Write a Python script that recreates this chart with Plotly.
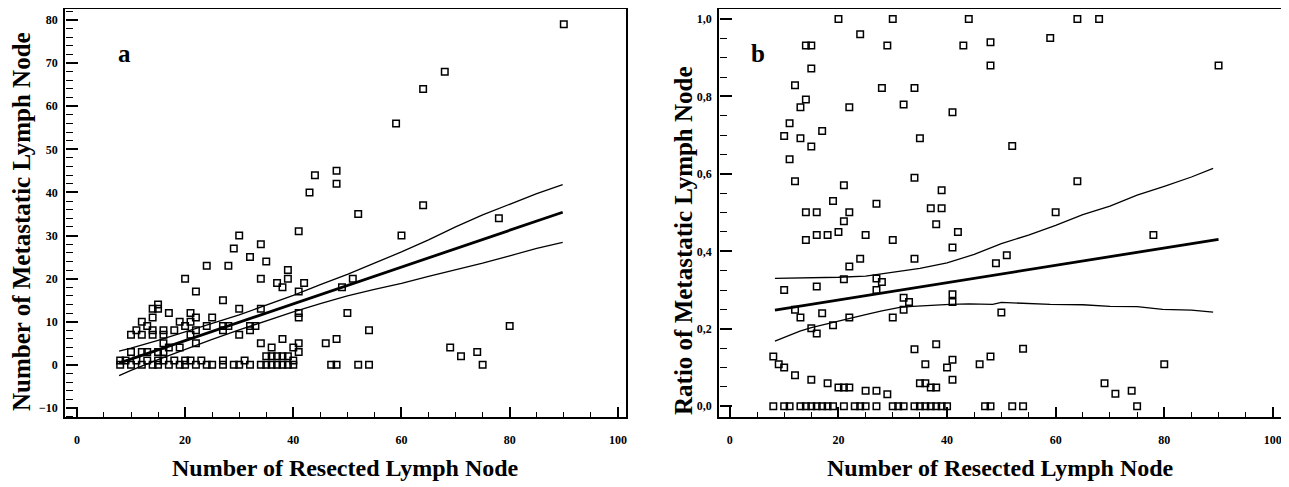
import plotly.graph_objects as go

# ---------------- data: panel a (count) ----------------
a_zero_x = [8, 10, 12, 14, 15, 17, 19, 20, 22, 24, 25, 27, 29, 30, 32, 34, 35, 36, 37, 38, 39, 40, 47, 48, 52, 54, 75]
a_one_x = [8, 9, 11, 13, 15, 16, 18, 20, 21, 23, 27, 31, 40]
a_other_x = [35, 36, 37, 38, 39, 10, 12, 13, 15, 16, 41, 71, 74, 17, 19, 36, 40, 69,
             16, 22, 34, 41, 46, 38, 48, 10, 12, 14, 16, 21, 30, 11, 14, 16, 18, 22, 27, 32, 54,
             13, 20, 24, 27, 28, 32, 33, 80, 12, 19, 21, 14, 22, 25, 41, 17, 21, 41,
             14, 15, 30, 34, 50, 15, 27, 22, 41, 38, 49, 37, 42, 20, 34, 39, 51, 39,
             24, 28, 35, 32, 29, 34, 30, 60, 41, 78, 52, 64, 43, 48, 44, 48, 59, 64, 68, 90]
a_other_y = [2, 2, 2, 2, 2, 3, 3, 3, 3, 3, 3, 2, 3, 4, 4, 4, 4, 4,
             5, 5, 5, 5, 5, 6, 6, 7, 7, 7, 7, 7, 7, 8, 8, 8, 8, 8, 8, 8, 8,
             9, 9, 9, 9, 9, 9, 9, 9, 10, 10, 10, 11, 11, 11, 11, 12, 12, 12,
             13, 13, 13, 13, 12, 14, 15, 17, 17, 18, 18, 19, 19, 20, 20, 20, 20, 22,
             23, 23, 24, 25, 27, 28, 30, 30, 31, 34, 35, 37, 40, 42, 44, 45, 56, 64, 68, 79]
a_x = a_zero_x + a_one_x + a_other_x
a_y = [0] * len(a_zero_x) + [1] * len(a_one_x) + a_other_y

a_fit_x = [7.8, 89.8]
a_fit_y = [0.4, 35.4]
a_band_x = [7.8, 10, 15, 20, 25, 30, 35, 40, 45, 50, 55, 60, 65, 70, 75, 80, 85, 89.8]
a_upper = [3.2, 3.9, 5.7, 7.6, 9.6, 11.6, 13.8, 16.1, 18.6, 21.0, 23.6, 26.2, 29.0, 32.0, 34.8, 37.3, 39.7, 41.8]
a_lower = [-2.5, -1.3, 1.2, 3.6, 5.9, 8.1, 10.2, 12.3, 14.2, 16.0, 17.5, 18.9, 20.5, 22.0, 23.6, 25.3, 27.0, 28.4]

# ---------------- data: panel b (ratio) ----------------
b_zero_x = [8, 10, 11, 13, 14, 15, 16, 17, 18, 19, 21, 23, 24, 25, 27, 30, 31, 32, 34, 35, 36, 37, 38, 39, 40, 47, 48, 52, 54, 75]
b_other_x = [20, 30, 44, 64, 68, 24, 14, 15, 29, 43, 48, 59, 48, 90, 15, 12, 28, 34,
             14, 13, 22, 32, 41, 11, 10, 13, 17, 15, 35, 52, 11, 12, 21, 34, 39, 64,
             19, 27, 14, 16, 22, 37, 39, 60, 21, 38, 14, 16, 18, 20, 25, 30, 42, 41, 78,
             24, 34, 22, 49, 51, 21, 27, 28, 27, 10, 16, 32, 33, 41, 41,
             12, 17, 13, 22, 30, 32, 50, 15, 16, 19,
             8, 9, 10, 12, 15, 18, 20, 21, 22, 25, 27, 29,
             34, 38, 36, 40, 41, 35, 36, 37, 38, 41, 46, 48, 54, 80, 69, 71, 74]
b_other_y = [1.0, 1.0, 1.0, 1.0, 1.0, 0.961, 0.932, 0.932, 0.932, 0.932, 0.94, 0.951, 0.88, 0.88, 0.872, 0.829, 0.822, 0.822,
             0.792, 0.772, 0.772, 0.779, 0.759, 0.731, 0.698, 0.692, 0.711, 0.671, 0.692, 0.672, 0.638, 0.581, 0.571, 0.59, 0.558, 0.581,
             0.53, 0.523, 0.501, 0.501, 0.501, 0.511, 0.511, 0.501, 0.478, 0.47, 0.429, 0.442, 0.442, 0.45, 0.442, 0.429, 0.45, 0.41, 0.442,
             0.381, 0.381, 0.361, 0.369, 0.39, 0.328, 0.33, 0.321, 0.30, 0.30, 0.309, 0.28, 0.269, 0.289, 0.269,
             0.249, 0.24, 0.229, 0.229, 0.229, 0.249, 0.242, 0.201, 0.188, 0.209,
             0.128, 0.108, 0.10, 0.08, 0.068, 0.059, 0.048, 0.048, 0.048, 0.04, 0.04, 0.031,
             0.147, 0.16, 0.108, 0.10, 0.12, 0.059, 0.059, 0.048, 0.048, 0.068, 0.108, 0.128, 0.148, 0.108, 0.059, 0.032, 0.04]
b_x = b_zero_x + b_other_x
b_y = [0.0] * len(b_zero_x) + b_other_y

b_fit_x = [8.3, 90.0]
b_fit_y = [0.248, 0.431]
b_up_x = [8.3, 15, 20, 25, 30, 35, 40, 45, 50, 55, 60, 65, 70, 75, 80, 85, 89]
b_upper = [0.330, 0.331, 0.333, 0.336, 0.346, 0.356, 0.370, 0.392, 0.420, 0.442, 0.467, 0.495, 0.517, 0.545, 0.568, 0.592, 0.614]
b_lo_x = [8.3, 10, 12.9, 15, 19, 22, 25.2, 28, 31.3, 33.7, 37, 40.5, 44, 48.4, 50, 55, 59, 65, 70, 75, 79.7, 85, 89]
b_lower = [0.168, 0.178, 0.194, 0.203, 0.217, 0.226, 0.237, 0.246, 0.255, 0.258, 0.261, 0.263, 0.264, 0.263, 0.268,
           0.265, 0.263, 0.262, 0.258, 0.257, 0.250, 0.248, 0.243]

# ---------------- figure ----------------
OFF = 8                      # page body margin
W, H = 1289 - OFF, 487 - OFF
FONT = "Liberation Serif"

def fx(px):
    return (px - OFF) / W

def fy(py):
    return 1 - (py - OFF) / H

fig = go.Figure()

mk = dict(symbol="square-open", size=6.5, color="black", line=dict(width=1.5, color="black"))
thin = dict(color="black", width=1.3)
thick = dict(color="black", width=2.8)

fig.add_trace(go.Scatter(x=a_x, y=a_y, mode="markers", marker=mk, xaxis="x", yaxis="y"))
fig.add_trace(go.Scatter(x=a_band_x, y=a_upper, mode="lines", line=thin, xaxis="x", yaxis="y"))
fig.add_trace(go.Scatter(x=a_band_x, y=a_lower, mode="lines", line=thin, xaxis="x", yaxis="y"))
fig.add_trace(go.Scatter(x=a_fit_x, y=a_fit_y, mode="lines", line=thick, xaxis="x", yaxis="y"))

fig.add_trace(go.Scatter(x=b_x, y=b_y, mode="markers", marker=mk, xaxis="x2", yaxis="y2"))
fig.add_trace(go.Scatter(x=b_up_x, y=b_upper, mode="lines", line=thin, xaxis="x2", yaxis="y2"))
fig.add_trace(go.Scatter(x=b_lo_x, y=b_lower, mode="lines", line=thin, xaxis="x2", yaxis="y2"))
fig.add_trace(go.Scatter(x=b_fit_x, y=b_fit_y, mode="lines", line=thick, xaxis="x2", yaxis="y2"))

tickfont = dict(family=FONT, size=12, color="black", weight="bold")
Y_BOT, Y_TOP = fy(417), fy(9)
ydom = [Y_BOT, Y_TOP]
XA_L, XA_R = fx(65), fx(626)
XB_L, XB_R = fx(719), fx(1281)
XR_A, XR_B = [-2.2, 101.5], [-2.0, 101.5]
YR_A, YR_B = [-12.1, 82.55], [-0.028, 1.026]

# main axes: frame + labels
def main_x(dom, rng, anchor):
    return dict(domain=dom, range=rng, anchor=anchor, tickmode="linear", tick0=0, dtick=20,
                ticks="", showline=True, linecolor="black", linewidth=1.5, mirror=True,
                showgrid=False, zeroline=False, tickfont=tickfont, ticklabelstandoff=11,
                ticklabeloverflow="allow")

def main_y(anchor, rng, dtick, fmt):
    return dict(domain=ydom, range=rng, anchor=anchor, tickmode="linear", tick0=0, dtick=dtick,
                tickformat=fmt, ticks="", showline=True, linecolor="black", linewidth=1.5, mirror=True,
                showgrid=False, zeroline=False, tickfont=tickfont, ticklabelstandoff=3,
                ticklabeloverflow="allow")

# tick axes: overlaid, placed on the bottom / left frame edge, ticks pointing into the frame
def tick_x(over, rng, pos):
    return dict(overlaying=over, range=rng, anchor="free", position=pos, side="top",
                tickmode="linear", tick0=0, dtick=20, ticks="outside", ticklen=10, tickwidth=1.5,
                tickcolor="black", showline=False, showgrid=False, zeroline=False, showticklabels=False,
                minor=dict(tickmode="linear", tick0=0, dtick=5, ticks="outside", ticklen=5,
                           tickwidth=1.3, tickcolor="black", showgrid=False))

def tick_y(over, rng, pos, dtick, minor_dtick):
    return dict(overlaying=over, range=rng, anchor="free", position=pos, side="right",
                tickmode="linear", tick0=0, dtick=dtick, ticks="outside", ticklen=12, tickwidth=1.5,
                tickcolor="black", showline=False, showgrid=False, zeroline=False, showticklabels=False,
                minor=dict(tickmode="linear", tick0=0, dtick=minor_dtick, ticks="outside", ticklen=7,
                           tickwidth=1.3, tickcolor="black", showgrid=False))

fig.update_layout(
    width=W, height=H, autosize=False, showlegend=False,
    margin=dict(l=0, r=0, t=0, b=0, pad=0),
    separators=",.",
    paper_bgcolor="white", plot_bgcolor="white",
    xaxis=main_x([XA_L, XA_R], XR_A, "y"),
    yaxis=main_y("x", YR_A, 10, "d"),
    xaxis2=main_x([XB_L, XB_R], XR_B, "y2"),
    yaxis2=main_y("x2", YR_B, 0.2, ".1f"),
    xaxis3=tick_x("x", XR_A, Y_BOT),
    yaxis3=tick_y("y", YR_A, XA_L, 10, 2),
    xaxis4=tick_x("x2", XR_B, Y_BOT),
    yaxis4=tick_y("y2", YR_B, XB_L, 0.2, 0.05),
)
fig.add_trace(go.Scatter(x=[], y=[], xaxis="x3", yaxis="y", hoverinfo="skip"))
fig.add_trace(go.Scatter(x=[], y=[], xaxis="x", yaxis="y3", hoverinfo="skip"))
fig.add_trace(go.Scatter(x=[], y=[], xaxis="x4", yaxis="y2", hoverinfo="skip"))
fig.add_trace(go.Scatter(x=[], y=[], xaxis="x2", yaxis="y4", hoverinfo="skip"))

title_font = dict(family=FONT, size=24, color="black", weight="bold")
ytitle_font = dict(family=FONT, size=25, color="black", weight="bold")
letter_font = dict(family=FONT, size=25, color="black", weight="bold")

def ann(px, py, text, font, angle=0):
    fig.add_annotation(x=fx(px), y=fy(py), xref="paper", yref="paper", text=text,
                       showarrow=False, font=font, textangle=angle, xanchor="center", yanchor="middle")

ann(345, 468, "Number of Resected Lymph Node", title_font)
ann(1000, 468, "Number of Resected Lymph Node", title_font)
ann(21, 222, "Number of Metastatic Lymph Node", ytitle_font, -90)
ann(683, 241, "Ratio of Metastatic Lymph Node", ytitle_font, -90)
ann(124, 53, "a", letter_font)
ann(758, 53, "b", letter_font)

fig.write_html("out.html")
